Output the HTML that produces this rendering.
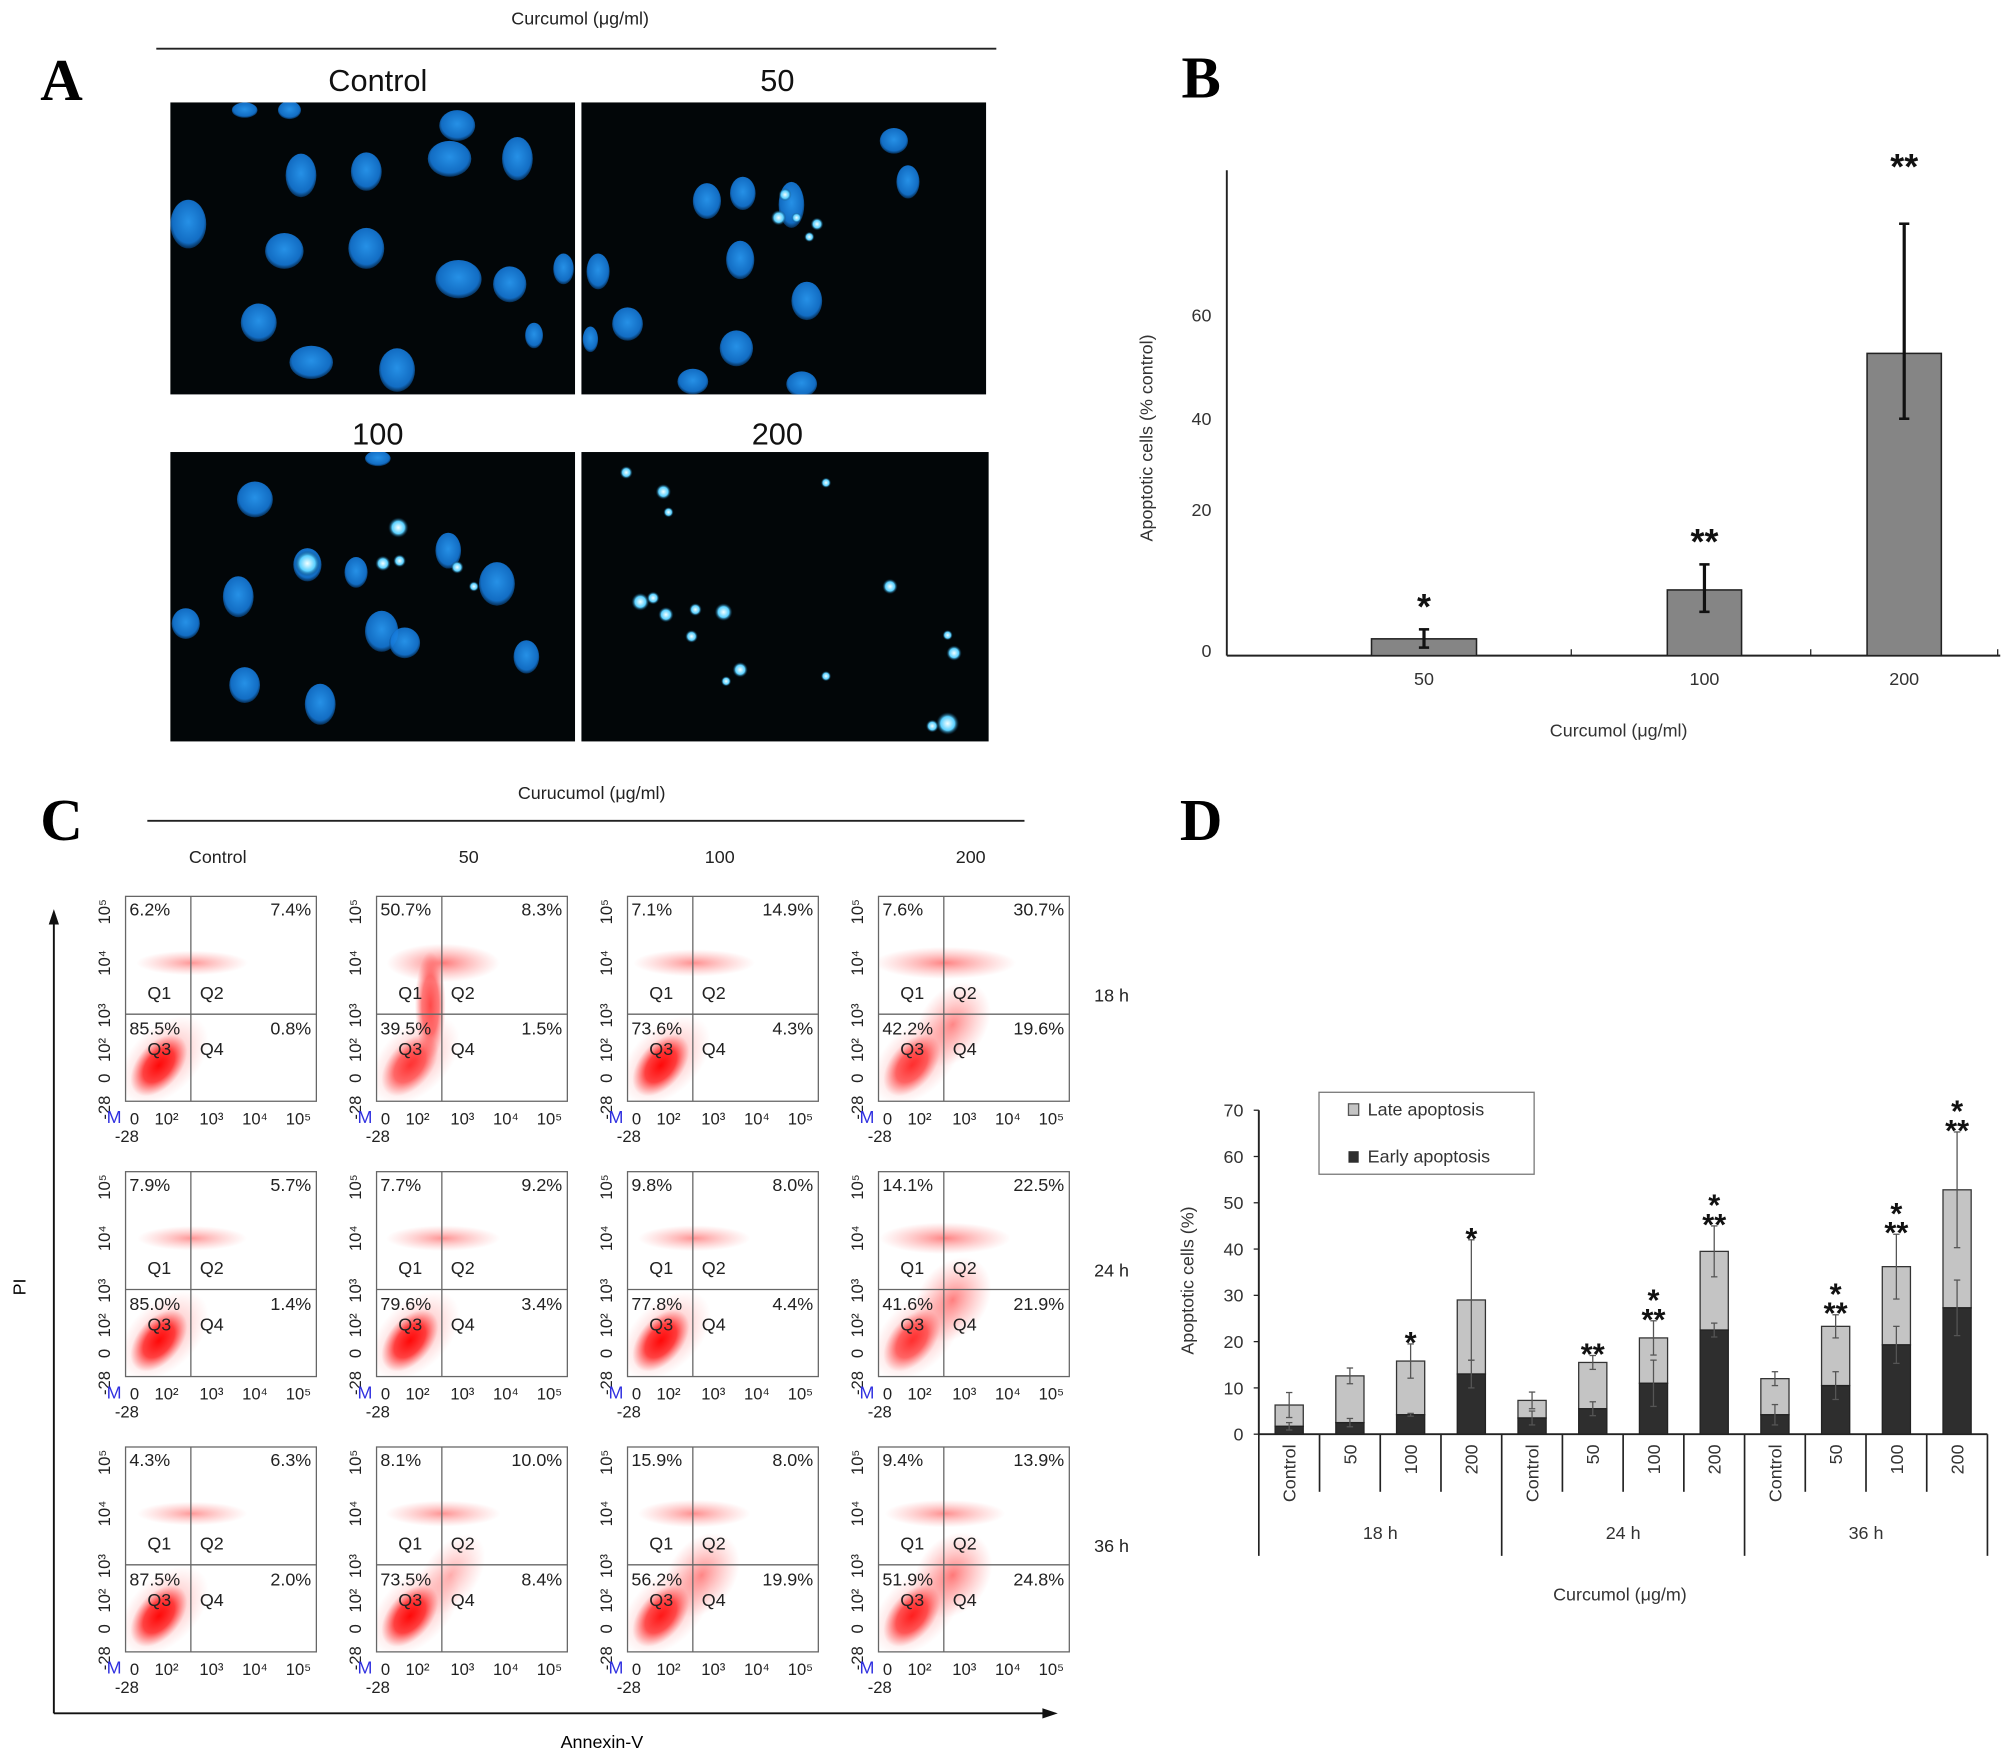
<!DOCTYPE html>
<html><head><meta charset="utf-8"><style>
html,body{margin:0;padding:0;background:#fff}
svg{display:block}
text{font-family:"Liberation Sans",sans-serif}
</style></head><body>
<svg id="fig" width="2008" height="1762" viewBox="0 0 1568 1376" xmlns="http://www.w3.org/2000/svg">
<defs>
<radialGradient id="nuc" cx="50%" cy="45%" r="55%"><stop offset="0" stop-color="#2aa0ff"/><stop offset="0.8" stop-color="#1478d8"/><stop offset="1" stop-color="#06305a"/></radialGradient>
<radialGradient id="frag" cx="50%" cy="50%" r="50%"><stop offset="0" stop-color="#f4ffff"/><stop offset="0.6" stop-color="#5ad0ff"/><stop offset="1" stop-color="#003050" stop-opacity="0"/></radialGradient>
<radialGradient id="cloud" cx="50%" cy="50%" r="50%"><stop offset="0" stop-color="#ff0000" stop-opacity="0.95"/><stop offset="0.55" stop-color="#ff1010" stop-opacity="0.75"/><stop offset="1" stop-color="#ff4040" stop-opacity="0"/></radialGradient>
<radialGradient id="haze" cx="50%" cy="50%" r="50%"><stop offset="0" stop-color="#ff2020" stop-opacity="0.6"/><stop offset="1" stop-color="#ff6060" stop-opacity="0"/></radialGradient>
</defs>

<g>
<text x="48" y="78" font-weight="bold" font-size="46" text-anchor="middle" style="font-family:'Liberation Serif',serif">A</text>
<text x="453" y="19" font-size="14" text-anchor="middle" fill="#222">Curcumol (μg/ml)</text>
<line x1="122" y1="38" x2="778" y2="38" stroke="#222" stroke-width="1.5"/>
<text x="295" y="71" font-size="24" text-anchor="middle" fill="#111">Control</text>
<text x="607" y="71" font-size="24" text-anchor="middle" fill="#111">50</text>
<text x="295" y="347" font-size="24" text-anchor="middle" fill="#111">100</text>
<text x="607" y="347" font-size="24" text-anchor="middle" fill="#111">200</text>
<g id="micro"></g>
</g>

<g>
<text x="938" y="76" font-weight="bold" font-size="46" text-anchor="middle" style="font-family:'Liberation Serif',serif">B</text>
<g id="chartB"></g>
</g>

<g>
<text x="48" y="656" font-weight="bold" font-size="46" text-anchor="middle" style="font-family:'Liberation Serif',serif">C</text>
<text x="462" y="624" font-size="14" text-anchor="middle" fill="#222">Curucumol (μg/ml)</text>
<line x1="115" y1="641" x2="800" y2="641" stroke="#222" stroke-width="1.5"/>
<line x1="42" y1="1338" x2="42" y2="718" stroke="#111" stroke-width="1.5"/>
<polygon points="42,710 38,722 46,722" fill="#111"/>
<line x1="42" y1="1338" x2="818" y2="1338" stroke="#111" stroke-width="1.5"/>
<polygon points="826,1338 814,1334 814,1342" fill="#111"/>
<text x="20" y="1005" font-size="14" text-anchor="middle" transform="rotate(-90 20 1005)">PI</text>
<text x="470" y="1365" font-size="14" text-anchor="middle">Annexin-V</text>
<g id="flow"></g>
</g>

<g>
<text x="938" y="656" font-weight="bold" font-size="46" text-anchor="middle" style="font-family:'Liberation Serif',serif">D</text>
<g id="chartD"></g>
</g>
</svg>
<script>
const NS='http://www.w3.org/2000/svg';
function mk(tag,attrs,parent,txt){const e=document.createElementNS(NS,tag);for(const k in attrs)e.setAttribute(k,attrs[k]);if(txt!==undefined)e.textContent=txt;parent.appendChild(e);return e;}

/* ---------- Panel A microscopy (decorative) ---------- */
const micro=document.getElementById('micro');
const imgBoxes=[[133,80,316,228],[454,80,316,228],[133,353,316,226],[454,353,318,226]];
const nuclei=[
 [[235,137,12,17],[286,134,12,15],[351,124,17,14],[404,124,12,17],[147,175,14,19],[222,196,15,14],[286,194,14,16],[358,218,18,15],[398,222,13,14],[202,252,14,15],[243,283,17,13],[310,289,14,17],[417,262,7,10],[191,86,10,6],[226,86,9,7],[357,98,14,12],[440,210,8,12]],
 [[552,157,11,14],[580,151,10,13],[618,160,10,18],[698,110,11,10],[709,142,9,13],[578,203,11,15],[630,235,12,15],[467,212,9,14],[490,253,12,13],[575,272,13,14],[541,298,12,10],[626,300,12,10],[461,265,6,10]],
 [[199,390,14,14],[145,487,11,12],[186,466,12,16],[240,441,11,13],[278,447,9,12],[298,493,13,16],[316,502,12,12],[350,430,10,14],[388,456,14,17],[250,550,12,16],[191,535,12,14],[411,513,10,13],[295,358,10,6]]
];
const frags=[
 [[613,152,5],[608,170,6],[622,170,4],[638,175,5],[632,185,4]],
 [[311,412,8],[299,440,6],[312,438,5],[357,443,5],[370,458,4],[240,440,10]],
 [[489,369,5],[518,384,6],[522,400,4],[645,377,4],[500,470,7],[520,480,6],[510,467,5],[543,476,5],[565,478,7],[540,497,5],[695,458,6],[578,523,6],[567,532,4],[645,528,4],[745,510,6],[740,496,4],[740,565,9],[728,567,5]]
];
imgBoxes.forEach((b,i)=>{
 const r=mk('rect',{x:b[0],y:b[1],width:b[2],height:b[3],fill:'#020608'},micro);
 
 
});
const cp=mk('clipPath',{id:'mclip'},micro);
imgBoxes.forEach(b=>mk('rect',{x:b[0],y:b[1],width:b[2],height:b[3]},cp));
const mg=mk('g',{'clip-path':'url(#mclip)'},micro);
nuclei.forEach(set=>set.forEach(n=>mk('ellipse',{cx:n[0],cy:n[1],rx:n[2],ry:n[3],fill:'url(#nuc)',opacity:0.9},mg)));
frags.forEach(set=>set.forEach(f=>mk('circle',{cx:f[0],cy:f[1],r:f[2],fill:'url(#frag)'},mg)));

/* ---------- Panel B ---------- */
const bCats=['50','100','200'];
const bVals=[2.3,9.0,52.6];
const bErrUp=[1.3,3.5,25.0];
const bErrDown=[1.2,3.0,12.6];
const bStars=['*','**','**'];
const bTickVals=[0,20,40,60];
const bTickPx=[512,398,327,246]; // axis calibration (non-linear axis as printed)
function yB(v){
 for(let i=0;i<bTickVals.length-1;i++){if(v<=bTickVals[i+1]||i===bTickVals.length-2){const t=(v-bTickVals[i])/(bTickVals[i+1]-bTickVals[i]);return bTickPx[i]+t*(bTickPx[i+1]-bTickPx[i]);}}
}
const xBcenters=[1112,1331,1487];
function xB(i){return xBcenters[i];}
const gB=document.getElementById('chartB');
mk('line',{x1:958,y1:133,x2:958,y2:512,stroke:'#222','stroke-width':1.5},gB);
mk('line',{x1:958,y1:512,x2:1562,y2:512,stroke:'#222','stroke-width':1.5},gB);
[1227,1414,1560].forEach(x=>mk('line',{x1:x,y1:507,x2:x,y2:512,stroke:'#222'},gB));
bTickVals.forEach(v=>{const t=mk('text',{x:946,y:yB(v)+(v===0?1:5),'font-size':14,'text-anchor':'end',fill:'#333'},gB,String(v));
 });
const byt=mk('text',{x:900,y:342,'font-size':14,'text-anchor':'middle',fill:'#333',transform:'rotate(-90 900 342)'},gB,'Apoptotic cells (% control)');

const bxt=mk('text',{x:1264,y:575,'font-size':14,'text-anchor':'middle',fill:'#333'},gB,'Curcumol (μg/ml)');

const bW=[82,58,58];
bVals.forEach((v,i)=>{
 const cx=xB(i),y0=yB(0),yt=yB(v);
 const r=mk('rect',{x:cx-bW[i]/2,y:yt,width:bW[i],height:y0-yt,fill:'#858585',stroke:'#222','stroke-width':1.2},gB);
 
 const yh=yB(v+bErrUp[i]),yl=yB(v-bErrDown[i]);
 const e=mk('line',{x1:cx,y1:yh,x2:cx,y2:yl,stroke:'#111','stroke-width':2.5},gB);
 
 mk('line',{x1:cx-4,y1:yh,x2:cx+4,y2:yh,stroke:'#111','stroke-width':2},gB);
 mk('line',{x1:cx-4,y1:yl,x2:cx+4,y2:yl,stroke:'#111','stroke-width':2},gB);
 const s=mk('text',{x:cx,y:Math.min(yh-8,v>40?yh-35:yh-8),'font-size':28,'font-weight':'bold','text-anchor':'middle',fill:'#111'},gB,bStars[i]);
 
 const l=mk('text',{x:cx,y:535,'font-size':14,'text-anchor':'middle',fill:'#333'},gB,bCats[i]);
 
});

/* ---------- Panel C flow plots ---------- */
const cCols=['Control','50','100','200'];
const cRows=['18 h','24 h','36 h'];
const cPct=[ // [Q1,Q2,Q3,Q4]
 [[6.2,7.4,85.5,0.8],[50.7,8.3,39.5,1.5],[7.1,14.9,73.6,4.3],[7.6,30.7,42.2,19.6]],
 [[7.9,5.7,85.0,1.4],[7.7,9.2,79.6,3.4],[9.8,8.0,77.8,4.4],[14.1,22.5,41.6,21.9]],
 [[4.3,6.3,87.5,2.0],[8.1,10.0,73.5,8.4],[15.9,8.0,56.2,19.9],[9.4,13.9,51.9,24.8]]
];
const fl=document.getElementById('flow');
const colX=[98,294,490,686], rowY=[700,915,1130];
cCols.forEach((c,j)=>{const t=mk('text',{x:colX[j]+72,y:674,'font-size':14,'text-anchor':'middle',fill:'#222'},fl,c);
 });
cRows.forEach((r,i)=>{const t=mk('text',{x:868,y:rowY[i]+82,'font-size':14,'text-anchor':'middle',fill:'#222'},fl,r);
 });
let cid=0;
cRows.forEach((r,i)=>cCols.forEach((c,j)=>{
 const x=colX[j],y=rowY[i],W=149,H=160,qx=x+51,qy=y+92;
 const g=mk('g',{},fl);
 
 
 const p=cPct[i][j];
 const id='fc'+(cid++);
 const clp=mk('clipPath',{id:id},g);mk('rect',{x:x,y:y,width:W,height:H},clp);
 const cg=mk('g',{'clip-path':'url(#'+id+')'},g);
 const dead=(p[0]+p[1])/100;
 // halo + main viable cloud (tilted)
 mk('ellipse',{cx:x+30,cy:y+128,rx:42,ry:26,fill:'url(#haze)',transform:'rotate(-45 '+(x+30)+' '+(y+128)+')',opacity:0.7},cg);
 mk('ellipse',{cx:x+26,cy:y+132,rx:28,ry:17,fill:'url(#cloud)',transform:'rotate(-50 '+(x+26)+' '+(y+132)+')',opacity:Math.min(1,0.35+p[2]/100)},cg);
 // PI-positive band
 mk('ellipse',{cx:x+52,cy:y+52,rx:40+p[1]*0.5,ry:8+dead*12,fill:'url(#haze)',opacity:0.7+dead*0.6},cg);
 if(p[3]>5) mk('ellipse',{cx:x+58,cy:y+100,rx:36,ry:18+p[3]*0.4,fill:'url(#haze)',transform:'rotate(-55 '+(x+58)+' '+(y+100)+')',opacity:0.4+p[3]/40},cg);
 if(p[0]>30) mk('ellipse',{cx:x+42,cy:y+85,rx:12,ry:42,fill:'url(#cloud)',opacity:0.75},cg);
 mk('rect',{x:x,y:y,width:W,height:H,fill:'none',stroke:'#666','stroke-width':1},g);
 mk('line',{x1:qx,y1:y,x2:qx,y2:y+H,stroke:'#666','stroke-width':1},g);
 mk('line',{x1:x,y1:qy,x2:x+W,y2:qy,stroke:'#666','stroke-width':1},g);
 const fs=14, col='#222';
 mk('text',{x:x+3,y:y+15,'font-size':fs,fill:col},g,p[0].toFixed(1)+'%');
 mk('text',{x:x+W-4,y:y+15,'font-size':fs,fill:col,'text-anchor':'end'},g,p[1].toFixed(1)+'%');
 mk('text',{x:x+3,y:qy+16,'font-size':fs,fill:col},g,p[2].toFixed(1)+'%');
 mk('text',{x:x+W-4,y:qy+16,'font-size':fs,fill:col,'text-anchor':'end'},g,p[3].toFixed(1)+'%');
 mk('text',{x:x+17,y:y+80,'font-size':fs,fill:col},g,'Q1');
 mk('text',{x:x+58,y:y+80,'font-size':fs,fill:col},g,'Q2');
 mk('text',{x:x+17,y:y+124,'font-size':fs,fill:col},g,'Q3');
 mk('text',{x:x+58,y:y+124,'font-size':fs,fill:col},g,'Q4');
 [['10⁵',12],['10⁴',52],['10³',93],['10²',120],['0',142],['-28',165]].forEach(t=>{
  mk('text',{x:x-12,y:y+t[1],'font-size':13,fill:col,'text-anchor':'middle',transform:'rotate(-90 '+(x-12)+' '+(y+t[1])+')'},g,t[0]);});
 [['0',7],['10²',32],['10³',67],['10⁴',101],['10⁵',135]].forEach(t=>{
  mk('text',{x:x+t[1],y:y+178,'font-size':13,fill:col,'text-anchor':'middle'},g,t[0]);});
 mk('text',{x:x-9,y:y+177,'font-size':14,fill:'#3030e0','text-anchor':'middle'},g,'M');
 mk('text',{x:x+1,y:y+192,'font-size':13,fill:col,'text-anchor':'middle'},g,'-28');
}));

/* ---------- Panel D stacked bars ---------- */
const dGroups=['18 h','24 h','36 h'];
const dCats=['Control','50','100','200'];
const dTotal=[6.3,12.6,15.8,29.0, 7.3,15.5,20.8,39.5, 12.0,23.3,36.2,52.8];
const dEarly=[1.7,2.5,4.2,13.0, 3.5,5.5,11.0,22.5, 4.2,10.5,19.3,27.3];
const dTotalErr=[2.7,1.7,3.7,13.0, 1.8,1.5,3.7,5.5, 1.5,2.5,7.0,12.5];
const dEarlyErr=[0.8,0.9,0.3,3.0, 1.5,1.5,5.0,1.5, 2.2,3.0,4.0,6.0];
const dStars=['','','*','*', '','**','*\n**','*\n**', '','*\n**','*\n**','*\n**'];
const dTicks=[0,10,20,30,40,50,60,70];
const gD=document.getElementById('chartD');
const dY0=1120,dYtop=867,dXl=983,dXr=1552;
function yD(v){return dY0-(v/70)*(dY0-dYtop);}
const slotW=(dXr-dXl)/12;
function xD(i){return dXl+slotW*(i+0.5);}
mk('line',{x1:dXl,y1:dYtop,x2:dXl,y2:dY0,stroke:'#222','stroke-width':1.5},gD);
mk('line',{x1:dXl,y1:dY0,x2:dXr,y2:dY0,stroke:'#222','stroke-width':1.5},gD);
dTicks.forEach(v=>{mk('line',{x1:dXl-4,y1:yD(v),x2:dXl,y2:yD(v),stroke:'#222'},gD);
 const t=mk('text',{x:dXl-12,y:yD(v)+5,'font-size':14,'text-anchor':'end',fill:'#333'},gD,String(v));
 });
for(let k=0;k<=12;k++){const x=dXl+slotW*k;const big=(k%4===0);
 mk('line',{x1:x,y1:dY0,x2:x,y2:big?1215:1165,stroke:'#222','stroke-width':1.3},gD);}
const dyt=mk('text',{x:932,y:1000,'font-size':14,'text-anchor':'middle',fill:'#333',transform:'rotate(-90 932 1000)'},gD,'Apoptotic cells (%)');

const dxt=mk('text',{x:1265,y:1250,'font-size':14,'text-anchor':'middle',fill:'#333'},gD,'Curcumol (μg/m)');

dGroups.forEach((g,k)=>{const t=mk('text',{x:dXl+slotW*(4*k+2),y:1202,'font-size':14,'text-anchor':'middle',fill:'#333'},gD,g);
 });
const bw=22;
dTotal.forEach((tot,i)=>{
 const cx=xD(i),e=dEarly[i];
 const late=mk('rect',{x:cx-bw/2,y:yD(tot),width:bw,height:yD(e)-yD(tot),fill:'#c4c4c4',stroke:'#333','stroke-width':1},gD);
 
 const early=mk('rect',{x:cx-bw/2,y:yD(e),width:bw,height:yD(0)-yD(e),fill:'#2e2e2e',stroke:'#222','stroke-width':1},gD);
 
 [[tot,dTotalErr[i]],[e,dEarlyErr[i]]].forEach(p=>{
  const yh=yD(p[0]+p[1]),yl=yD(Math.max(0,p[0]-p[1]));
  mk('line',{x1:cx,y1:yh,x2:cx,y2:yl,stroke:'#555','stroke-width':1},gD);
  mk('line',{x1:cx-2.5,y1:yh,x2:cx+2.5,y2:yh,stroke:'#555'},gD);
  mk('line',{x1:cx-2.5,y1:yl,x2:cx+2.5,y2:yl,stroke:'#555'},gD);
 });
 const lines=dStars[i]?dStars[i].split('\n'):[];
 const top=yD(tot+dTotalErr[i]);
 lines.reverse().forEach((s,k)=>{const t=mk('text',{x:cx,y:top-3-k*15+10,'font-size':24,'font-weight':'bold','text-anchor':'middle',fill:'#111'},gD,s);
  });
 const lab=dCats[i%4];
 const t=mk('text',{x:cx+5,y:1128,'font-size':14,'text-anchor':'end',fill:'#333',transform:'rotate(-90 '+(cx+5)+' 1128)'},gD,lab);
 
});
const leg=mk('g',{},gD);

mk('rect',{x:1030,y:853,width:168,height:64,fill:'#fff',stroke:'#777'},leg);
mk('rect',{x:1053,y:862,width:8,height:9,fill:'#c4c4c4',stroke:'#555'},leg);
mk('text',{x:1068,y:871,'font-size':14,fill:'#333'},leg,'Late apoptosis');
mk('rect',{x:1053,y:899,width:8,height:9,fill:'#2e2e2e'},leg);
mk('text',{x:1068,y:908,'font-size':14,fill:'#333'},leg,'Early apoptosis');
</script>
</body></html>
